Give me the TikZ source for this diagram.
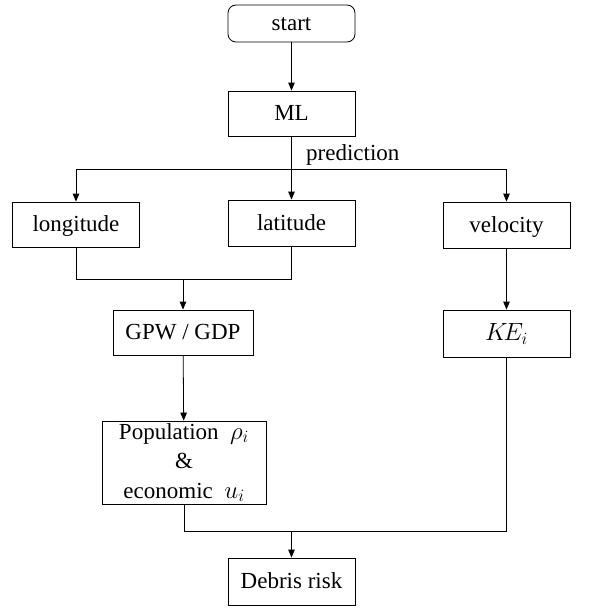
\documentclass[tikz,border=0pt]{standalone}
\usepackage{fontspec}
\setmainfont{Liberation Serif}
\usetikzlibrary{arrows.meta}
\begin{document}
\begin{tikzpicture}[x=1pt,y=-1pt,
  box/.style={draw,line width=0.8pt,inner sep=0pt,minimum width=127pt,minimum height=45pt,
    font=\fontsize{23}{29.5}\selectfont,align=center},
  one/.style={text height=17pt,text depth=3pt},
  line/.style={line width=0.8pt},
  arr/.style={line width=0.8pt,-{Triangle[length=8pt,width=6.5pt]}}]
\useasboundingbox (0,0) rectangle (594,610);
\node[box,one,rounded corners=8pt,minimum height=37pt] (start) at (291.5,23.5) {start};
\node[box,one] (ml) at (291.5,113.5) {ML};
\node[box,one] (lon) at (76,224.5) {longitude};
\node[box,one,minimum height=46pt] (lat) at (291.5,223) {latitude};
\node[box,one,minimum height=46pt] (vel) at (506.5,225) {velocity};
\node[box,one,minimum width=140pt] (gpw) at (183,332.5) {GPW / GDP};
\node[box,one,minimum height=47pt] (ke) at (506.5,333.5) {$K\!E_i$};
\node[box,minimum width=164pt,minimum height=83pt] (pop) at (184,462.5) {Population\ \ $\rho_i$\\ \&\\ economic\ \ $u_i$};
\node[box,one,minimum height=47pt] (risk) at (291.5,581.5) {Debris risk};
\node[anchor=west,inner sep=0pt,font=\fontsize{23}{27}\selectfont] (pred) at (306,155) {prediction};
\coordinate (split) at (291.5,169);
\coordinate (j1) at (183,279);
\coordinate (j2) at (291.5,531);
\draw[arr] (start) -- (ml);
\draw[line] (ml) -- (split);
\draw[line] (lon.north |- split) -- (vel.north |- split);
\draw[arr] (lon.north |- split) -- (lon.north);
\draw[arr] (split) -- (lat.north);
\draw[arr] (vel.north |- split) -- (vel.north);
\draw[line] (lon.south) |- (lat.south |- j1) -- (lat.south);
\draw[arr] (j1) -- (gpw.north);
\draw[arr] (gpw) -- (pop);
\draw[arr] (vel) -- (ke);
\draw[line] (pop.south) |- (ke.south |- j2) -- (ke.south);
\draw[arr] (j2) -- (risk.north);
\end{tikzpicture}
\end{document}
